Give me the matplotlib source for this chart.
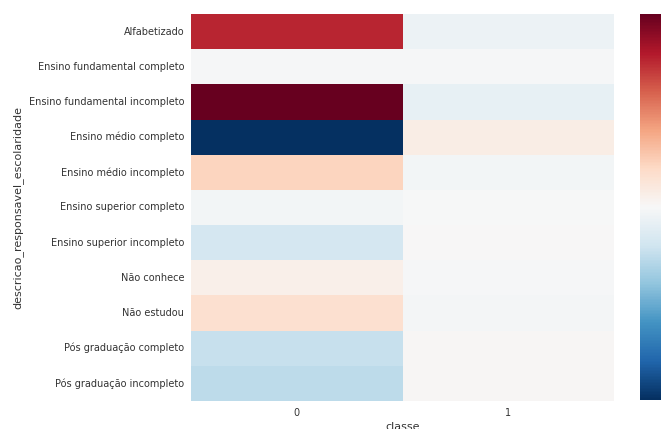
import matplotlib
matplotlib.use("Agg")
import matplotlib.pyplot as plt
import seaborn as sns
import numpy as np
import pandas as pd

categories = [
    "Alfabetizado",
    "Ensino fundamental completo",
    "Ensino fundamental incompleto",
    "Ensino médio completo",
    "Ensino médio incompleto",
    "Ensino superior completo",
    "Ensino superior incompleto",
    "Não conhece",
    "Não estudou",
    "Pós graduação completo",
    "Pós graduação incompleto",
]
classes = ["0", "1"]
classe_0 = [4.5, 0.0, 5.9, -5.8, 1.35, -0.1, -1.0, 0.4, 1.0, -1.3, -1.5]
classe_1 = [-0.3, 0.0, -0.42, 0.5, -0.1, 0.02, 0.08, -0.03, -0.08, 0.1, 0.11]

df = pd.DataFrame({classes[0]: classe_0, classes[1]: classe_1}, index=categories)
df.index.name = "descricao_responsavel_escolaridade"
df.columns.name = "classe"

sns.set_style("white")
plt.rcParams["font.family"] = ["DejaVu Sans"]
plt.rcParams["text.color"] = "#333333"
plt.rcParams["axes.labelcolor"] = "#333333"
plt.rcParams["xtick.color"] = "#333333"
plt.rcParams["ytick.color"] = "#333333"

fig = plt.figure(figsize=(6.68, 4.29), dpi=100)
ax = fig.add_axes([191/668, 1-401/429, 423/668, 387/429])
cax = fig.add_axes([640/668, 1-400/429, 21/668, 386/429])

sns.heatmap(df, cmap="RdBu_r", ax=ax, cbar_ax=cax)

ax.tick_params(axis="both", length=0, labelsize=7.0)
ax.tick_params(axis="y", pad=5)
ax.tick_params(axis="x", pad=5)
ax.set_yticklabels(categories, rotation=0)
ax.set_xticklabels(classes, rotation=0)
ax.set_xlabel("classe", fontsize=8, labelpad=3)
ax.set_ylabel("descricao_responsavel_escolaridade", fontsize=8, labelpad=4)
cax.tick_params(length=0, labelsize=7.0, pad=5)
cax.set_yticks([-4, -2, 0, 2, 4])
for s in cax.spines.values():
    s.set_visible(False)

fig.savefig("out.png", dpi=100)
